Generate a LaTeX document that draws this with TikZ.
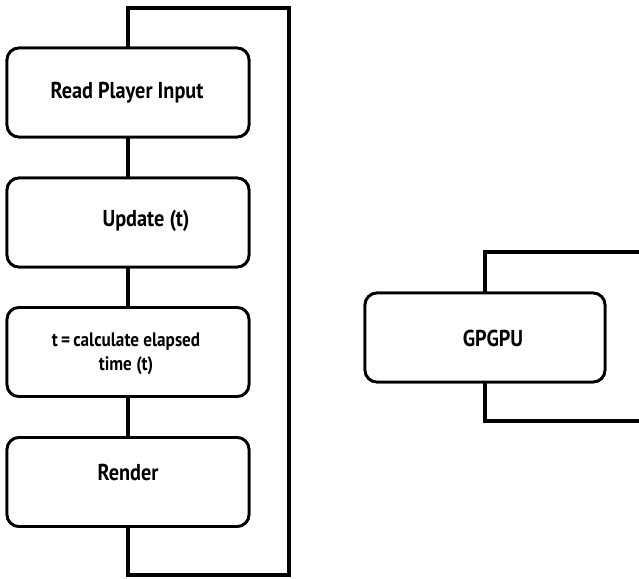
\documentclass[tikz,border=0pt]{standalone}
\usepackage{fontspec}
\setmainfont{PT Sans}[FakeStretch=0.88]
\begin{document}
\begin{tikzpicture}[x=1pt,y=-1pt,
  stepbox/.style={draw=black, line width=2.8pt, rounded corners=12pt,
    minimum width=242pt, minimum height=89pt, inner sep=0pt, fill=white},
  lbl/.style={font=\bfseries\fontsize{23}{24}\selectfont, inner sep=0pt, align=center},
  slbl/.style={font=\bfseries\fontsize{19.5}{24}\selectfont, inner sep=0pt, align=center},
  wire/.style={draw=black, line width=3.6pt, line cap=rect}]
\useasboundingbox (0,0) rectangle (639,578);

% corner points of the feedback loops
\coordinate (loopbot) at (128,575);
\coordinate (loopright) at (289,8);
\coordinate (gtop) at (641,252);
\coordinate (gbot) at (641,421);

% step boxes (placed first so the wires can refer to them)
\node[stepbox] (b1) at (128,92.5) {};
\node[stepbox] (b2) at (128,222.5) {};
\node[stepbox] (b3) at (128,352) {};
\node[stepbox] (b4) at (128,482) {};
\node[stepbox, minimum width=240pt] (g) at (485,337.5) {};

\draw[wire] (b1.south) -- (b2.north);
\draw[wire] (b2.south) -- (b3.north);
\draw[wire] (b3.south) -- (b4.north);
\draw[wire, line cap=butt] (b4.south) -- (loopbot) -| (loopright) -| (b1.north);
\draw[wire, line cap=butt] (g.north) |- (gtop);
\draw[wire, line cap=butt] (g.south) |- (gbot);

% redraw the box outlines over the wire ends
\node[stepbox] at (b1) {};
\node[stepbox] at (b2) {};
\node[stepbox] at (b3) {};
\node[stepbox] at (b4) {};
\node[stepbox, minimum width=240pt] at (g) {};

\node[lbl] (t1) at (127,93) {Read Player Input};
\node[lbl] (t2) at (146,221) {Update (t)};
\node[slbl] (t3) at (126,354) {t\,=\,calculate elapsed\\time (t)};
\node[lbl] (t4) at (128,472) {Render};
\node[lbl] (t5) at (493,338) {GPGPU};
\end{tikzpicture}
\end{document}
